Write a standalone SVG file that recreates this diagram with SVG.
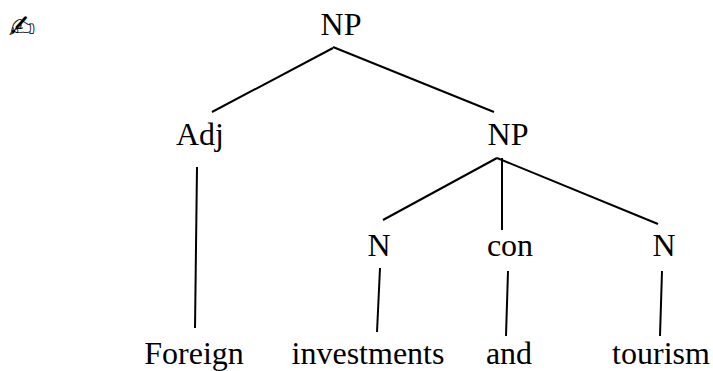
<svg xmlns="http://www.w3.org/2000/svg" width="713" height="371" viewBox="0 0 713 371">
<style>
text{font-family:"Liberation Serif","Times New Roman",serif;font-size:32px;fill:#000;text-anchor:middle}
line{stroke:#000;stroke-width:2;fill:none}
</style>
<rect width="713" height="371" fill="#fff"/>
<g id="connectors">
<line x1="333" y1="48" x2="212" y2="112"/>
<line x1="333" y1="47" x2="494" y2="112"/>
<line x1="197" y1="167" x2="195" y2="328"/>
<line x1="497" y1="158" x2="383" y2="220"/>
<line x1="502" y1="158" x2="502" y2="230"/>
<line x1="497" y1="158" x2="658" y2="224"/>
<line x1="380" y1="268" x2="377" y2="332"/>
<line x1="508" y1="271" x2="506" y2="336"/>
<line x1="662" y1="271" x2="660" y2="336"/>
</g>
<g id="n-sym"><text x="22" y="38" style="font-family:'DejaVu Sans',sans-serif;font-size:32px">✍</text></g>
<g id="n-np1"><text x="341" y="35">NP</text></g>
<g id="n-adj"><text x="200" y="145">Adj</text></g>
<g id="n-np2"><text x="508" y="145">NP</text></g>
<g id="n-n1"><text x="379" y="256">N</text></g>
<g id="n-con"><text x="510" y="256">con</text></g>
<g id="n-n2"><text x="664" y="256">N</text></g>
<g id="n-foreign"><text x="194" y="364">Foreign</text></g>
<g id="n-inv"><text x="368" y="364">investments</text></g>
<g id="n-and"><text x="509" y="364">and</text></g>
<g id="n-tourism"><text x="661" y="364">tourism</text></g>
</svg>
